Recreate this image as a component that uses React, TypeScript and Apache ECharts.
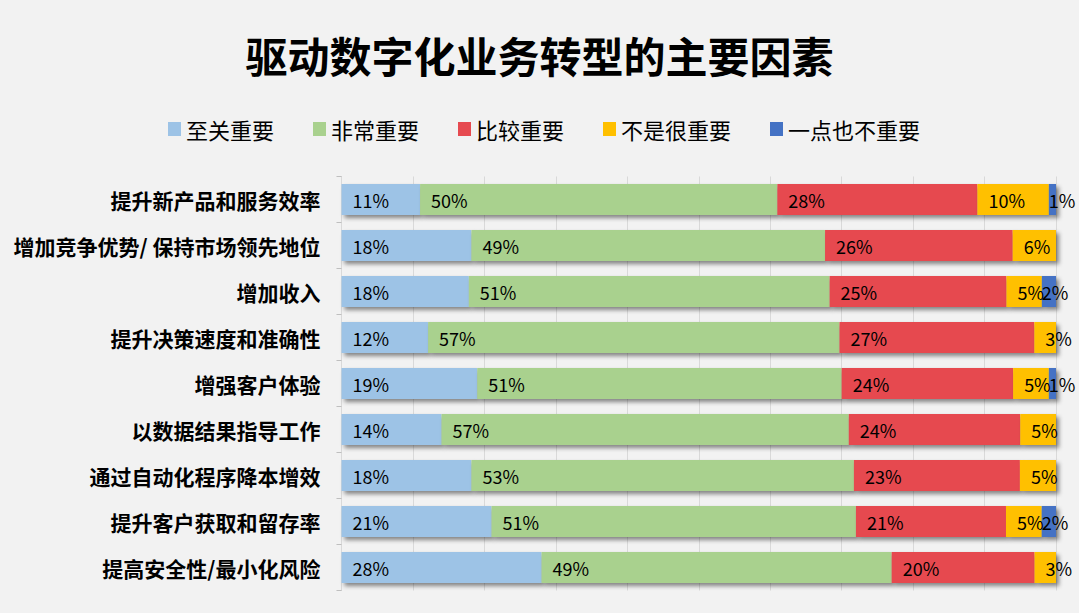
import React, { useEffect, useRef } from "react";
import * as echarts from "echarts";

const title = "驱动数字化业务转型的主要因素";
const categories = [
  "提升新产品和服务效率",
  "增加竞争优势/ 保持市场领先地位",
  "增加收入",
  "提升决策速度和准确性",
  "增强客户体验",
  "以数据结果指导工作",
  "通过自动化程序降本增效",
  "提升客户获取和留存率",
  "提高安全性/最小化风险",
];
const seriesNames = ["至关重要", "非常重要", "比较重要", "不是很重要", "一点也不重要"];
const critical = [11, 18, 18, 12, 19, 14, 18, 21, 28];
const veryImportant = [50, 49, 51, 57, 51, 57, 53, 51, 49];
const fairly = [28, 26, 25, 27, 24, 24, 23, 21, 20];
const notVery = [10, 6, 5, 3, 5, 5, 5, 5, 3];
const notAtAll = [1, 0, 2, 0, 1, 0, 0, 2, 0];
const colors = ["#9DC3E6", "#A9D18E", "#E64A50", "#FFC000", "#4472C4"];

export default function App() {
  const ref = useRef<HTMLDivElement>(null);
  useEffect(() => {
    if (!ref.current) return;
    const chart = echarts.init(ref.current, undefined, { renderer: "svg" });
    const raw = [critical, veryImportant, fairly, notVery, notAtAll];
    const totals = categories.map((_, i) => raw.reduce((s, arr) => s + arr[i], 0));
    const series = raw.map((arr, si) => ({
      name: seriesNames[si],
      type: "bar",
      stack: "total",
      barWidth: 31,
      data: arr.map((v, i) => (v / totals[i]) * 100),
      itemStyle: {
        color: colors[si],
        shadowColor: "rgba(0,0,0,0.45)",
        shadowBlur: 4,
        shadowOffsetX: 3,
        shadowOffsetY: 3,
      },
      label: {
        show: true,
        position: "insideLeft",
        distance: si === 4 ? 0 : 11,
        color: "#000",
        fontSize: 18,
        fontFamily: "Noto Sans CJK SC",
        formatter: (p: any) => (arr[p.dataIndex] > 0 ? arr[p.dataIndex] + "%" : ""),
      },
    }));
    chart.setOption({
      animation: false,
      backgroundColor: "#F2F2F2",
      title: {
        text: title,
        left: "center",
        top: 28,
        textStyle: {
          fontSize: 42,
          fontWeight: "bold",
          color: "#000",
          fontFamily: "Noto Sans CJK SC",
        },
      },
      legend: {
        top: 113,
        left: 163,
        itemWidth: 13,
        itemHeight: 14,
        itemGap: 39,
        icon: "rect",
        textStyle: { fontSize: 22, color: "#000", fontFamily: "Noto Sans CJK SC" },
        data: seriesNames,
      },
      grid: { left: 341.5, right: 23, top: 176.5, bottom: 22.5, containLabel: false },
      xAxis: {
        type: "value",
        min: 0,
        max: 100,
        interval: 10,
        axisLabel: { show: false },
        axisLine: { show: false },
        axisTick: { show: false },
        splitLine: { show: true, lineStyle: { color: "#D9D9D9", width: 1 } },
      },
      yAxis: {
        type: "category",
        inverse: true,
        data: categories,
        axisLine: { show: true, lineStyle: { color: "#D9D9D9" } },
        axisTick: { show: true, length: 5, lineStyle: { color: "#BFBFBF" } },
        axisLabel: {
          margin: 21,
          fontSize: 21,
          fontWeight: "bold",
          color: "#000",
          fontFamily: "Noto Sans CJK SC",
        },
      },
      series,
    });
    return () => chart.dispose();
  }, []);
  return (
    <div
      ref={ref}
      style={{ position: "fixed", left: 0, top: 0, width: 1079, height: 613 }}
    />
  );
}
